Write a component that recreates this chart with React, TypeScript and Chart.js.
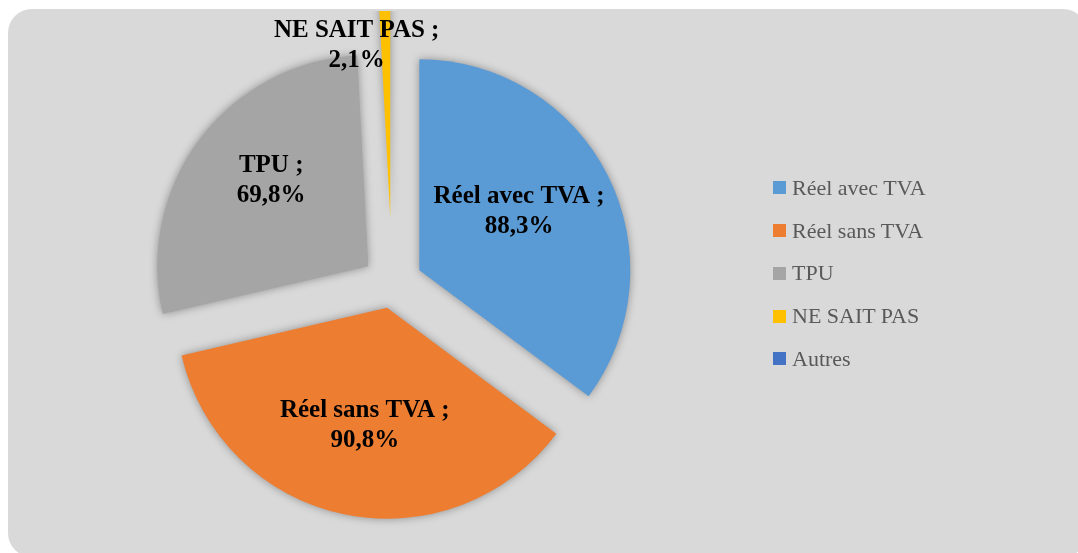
import React, { useEffect, useRef } from "react";
import { Chart, registerables } from "chart.js";

Chart.register(...registerables);

// ---- data ----
const categories = ["Réel avec TVA", "Réel sans TVA", "TPU", "NE SAIT PAS", "Autres"];
const values = [88.3, 90.8, 69.8, 2.1, 0];

// ---- style ----
const colors = ["#5B9BD5", "#ED7D31", "#A5A5A5", "#FFC000", "#4472C4"];
const explode = [30.6, 24.2, 29.7, 66, 0];
const labelRadiusFactor = [0.55, 0.565, 0.617, 0.827, 0.5];
const labelNudge: number[][] = [[-4, -8], [2, 0], [7, -9], [-29, 0], [0, 0]];

const CARD_W = 1079;
const CARD_H = 548;

const fmt = (v: number) => v.toFixed(1).replace(".", ",") + "%";

const explodePlugin = {
  id: "explodeLabels",
  beforeDatasetDraw(chart: any, args: any) {
    const ctx = chart.ctx as CanvasRenderingContext2D;
    const area = chart.chartArea;
    const meta = args.meta;
    ctx.save();
    ctx.beginPath();
    ctx.rect(area.left, area.top, area.right - area.left, area.bottom - area.top);
    ctx.clip();
    meta.data.forEach((arc: any, i: number) => {
      const p = arc.getProps(["startAngle", "endAngle", "circumference"], true);
      if (!p.circumference) return;
      const mid = (p.startAngle + p.endAngle) / 2;
      ctx.save();
      ctx.shadowColor = "rgba(0,0,0,0.35)";
      ctx.shadowBlur = 8;
      ctx.shadowOffsetX = 0;
      ctx.shadowOffsetY = 0;
      ctx.translate(Math.cos(mid) * explode[i], Math.sin(mid) * explode[i]);
      arc.draw(ctx);
      ctx.restore();
    });
    ctx.restore();
    return false;
  },
  afterDatasetsDraw(chart: any) {
    const ctx = chart.ctx as CanvasRenderingContext2D;
    const meta = chart.getDatasetMeta(0);
    ctx.save();
    ctx.font = 'bold 25px "Liberation Serif"';
    ctx.fillStyle = "#000000";
    ctx.textAlign = "center";
    ctx.textBaseline = "alphabetic";
    meta.data.forEach((arc: any, i: number) => {
      if (!values[i]) return;
      const p = arc.getProps(["startAngle", "endAngle", "outerRadius", "x", "y"], true);
      const mid = (p.startAngle + p.endAngle) / 2;
      const d = explode[i] + labelRadiusFactor[i] * p.outerRadius;
      const cx = p.x + Math.cos(mid) * d + labelNudge[i][0];
      const cy = p.y + Math.sin(mid) * d + labelNudge[i][1];
      ctx.fillText(categories[i] + " ;", cx, cy - 7);
      ctx.fillText(fmt(values[i]), cx, cy + 23);
    });
    ctx.restore();
  },
};

export default function App() {
  const canvasRef = useRef<HTMLCanvasElement | null>(null);

  useEffect(() => {
    if (!canvasRef.current) return;
    const chart = new Chart(canvasRef.current, {
      type: "pie",
      data: {
        labels: categories,
        datasets: [
          {
            data: values,
            backgroundColor: colors,
            borderWidth: 0,
            radius: 211,
          } as any,
        ],
      },
      options: {
        responsive: false,
        animation: false,
        events: [],
        layout: { padding: { left: 0, right: 311, top: 2, bottom: 0 } },
        plugins: {
          legend: { display: false },
          tooltip: { enabled: false },
        },
      },
      plugins: [explodePlugin],
    });
    return () => chart.destroy();
  }, []);

  return (
    <div
      style={{
        position: "fixed",
        left: 8,
        top: 9,
        width: CARD_W,
        height: CARD_H,
        borderRadius: 24,
        background: "#D9D9D9",
        overflow: "hidden",
      }}
    >
      <canvas
        ref={canvasRef}
        width={CARD_W}
        height={CARD_H}
        style={{ display: "block", width: CARD_W, height: CARD_H }}
      />
      {categories.map((c, i) => (
        <div
          key={c}
          style={{
            position: "absolute",
            left: 765,
            top: 167.9 + i * 42.7,
            height: 22,
            display: "flex",
            alignItems: "center",
            whiteSpace: "nowrap",
          }}
        >
          <span
            style={{
              display: "inline-block",
              width: 13,
              height: 13,
              background: colors[i],
              marginRight: 6,
            }}
          />
          <span
            style={{
              fontFamily: '"Liberation Serif"',
              fontSize: 22,
              lineHeight: "22px",
              color: "#595959",
            }}
          >
            {c}
          </span>
        </div>
      ))}
    </div>
  );
}
